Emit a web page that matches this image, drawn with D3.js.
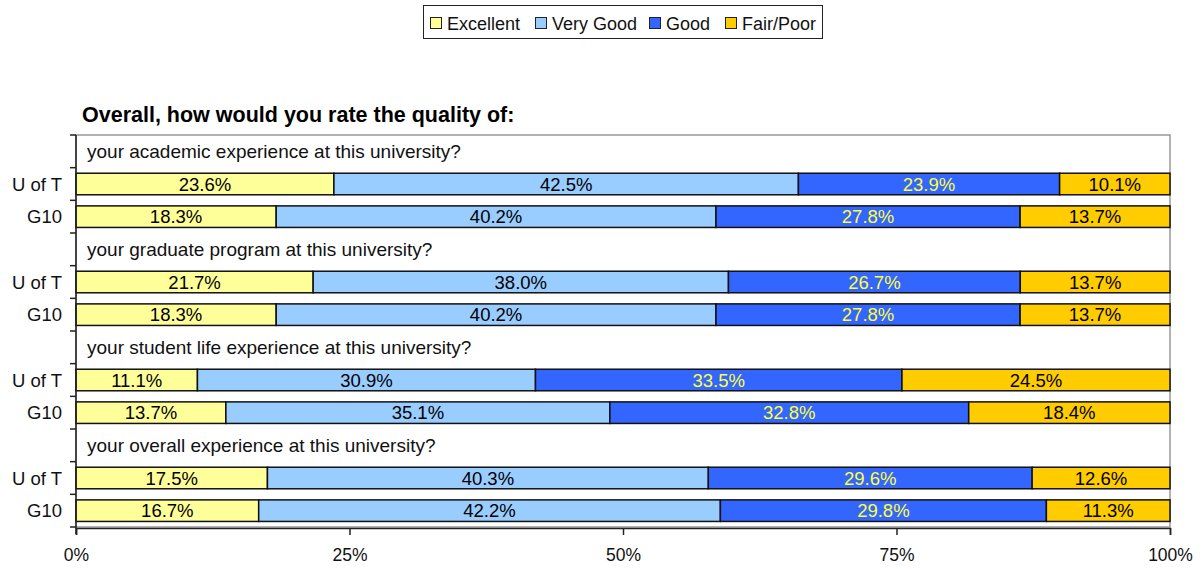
<!DOCTYPE html>
<html>
<head>
<meta charset="utf-8">
<script src="https://d3js.org/d3.v7.min.js"></script>
<style>
body { margin: 0; background: #fff; }
text { font-family: "Liberation Sans", Arial, sans-serif; }
</style>
</head>
<body>
<svg id="chart" width="1202" height="569"></svg>
<script>
// ratings, in stack order
const ratings = ["Excellent", "Very Good", "Good", "Fair/Poor"];
const colors = ["#FFFF99", "#99CCFF", "#3366FF", "#FFCC00"];
const labelColors = ["#000", "#000", "#FFFF33", "#000"];

const questions = [
  "your academic experience at this university?",
  "your graduate program at this university?",
  "your student life experience at this university?",
  "your overall experience at this university?"
];
const groups = ["U of T", "G10"];

// percentages per question: [U of T, G10], each Excellent / Very Good / Good / Fair/Poor
const academic = [[23.6, 42.5, 23.9, 10.1], [18.3, 40.2, 27.8, 13.7]];
const program = [[21.7, 38.0, 26.7, 13.7], [18.3, 40.2, 27.8, 13.7]];
const studentLife = [[11.1, 30.9, 33.5, 24.5], [13.7, 35.1, 32.8, 18.4]];
const overall = [[17.5, 40.3, 29.6, 12.6], [16.7, 42.2, 29.8, 11.3]];
const values = [academic, program, studentLife, overall];

const xTicks = [0, 0.25, 0.5, 0.75, 1];

// rows: a header row per question then one row per group
const rows = [];
questions.forEach((q, qi) => {
  rows.push({ id: "h" + qi, header: q });
  groups.forEach((g, gi) => {
    const r = { id: qi + "-" + gi, group: g };
    ratings.forEach((k, ki) => r[k] = values[qi][gi][ki]);
    rows.push(r);
  });
});
const barRows = rows.filter(r => !r.header);

const svg = d3.select("#chart");
const x0 = 76, x1 = 1170, y0 = 135, y1 = 527;

const x = d3.scaleLinear().domain([0, 1]).range([x0, x1]);
const y = d3.scaleBand().domain(rows.map(r => r.id)).range([y0, y1]).paddingInner(0.34).paddingOuter(0.17);

const stack = d3.stack().keys(ratings).offset(d3.stackOffsetExpand);
const series = stack(barRows);

// plot border
svg.append("rect")
  .attr("x", x0).attr("y", y0)
  .attr("width", x1 - x0).attr("height", y1 - y0)
  .attr("fill", "none").attr("stroke", "#999").attr("stroke-width", 1.5);

// bars
const layer = svg.append("g").selectAll("g").data(series).join("g")
  .attr("fill", (d, i) => colors[i]);

layer.selectAll("rect").data(d => d).join("rect")
  .attr("x", d => x(d[0]))
  .attr("y", d => y(d.data.id))
  .attr("width", d => x(d[1]) - x(d[0]))
  .attr("height", y.bandwidth())
  .attr("stroke", "#111")
  .attr("stroke-width", 1.5);

layer.selectAll("text").data(d => d.map(v => ({ v: v, key: d.key, i: d.index }))).join("text")
  .attr("x", d => (x(d.v[0]) + x(d.v[1])) / 2)
  .attr("y", d => y(d.v.data.id) + y.bandwidth() / 2 + 6.5)
  .attr("text-anchor", "middle")
  .attr("font-size", 18.5)
  .attr("fill", d => labelColors[d.i])
  .text(d => d.v.data[d.key].toFixed(1) + "%");

// question headers
svg.append("g").selectAll("text").data(rows.filter(r => r.header)).join("text")
  .attr("x", x0 + 11)
  .attr("y", r => y(r.id) + y.bandwidth() / 2 + 6.5)
  .attr("font-size", 19)
  .attr("fill", "#111")
  .text(r => r.header);

// left axis with ticks between categories
const yTicks = d3.range(rows.length + 1).map(i => y0 + i * (y1 - y0) / rows.length);
svg.append("line").attr("x1", x0).attr("x2", x0).attr("y1", y0).attr("y2", y1 + 7)
  .attr("stroke", "#222").attr("stroke-width", 1.5);
svg.append("g").selectAll("line").data(yTicks).join("line")
  .attr("x1", x0 - 6).attr("x2", x0).attr("y1", d => d).attr("y2", d => d)
  .attr("stroke", "#222").attr("stroke-width", 1.5);
svg.append("g").selectAll("text").data(barRows).join("text")
  .attr("x", 62)
  .attr("y", r => y(r.id) + y.bandwidth() / 2 + 6.5)
  .attr("text-anchor", "end")
  .attr("font-size", 18.5)
  .attr("fill", "#111")
  .text(r => r.group);

// bottom axis
const xAxis = d3.axisBottom(x).tickValues(xTicks).tickFormat(d3.format(".0%")).tickSize(7).tickPadding(14);
const gx = svg.append("g").attr("transform", `translate(0,${y1 + 1})`).call(xAxis);
gx.select(".domain").attr("stroke", "#222").attr("stroke-width", 1.5);
gx.selectAll(".tick line").attr("stroke", "#222").attr("stroke-width", 1.5);
gx.selectAll(".tick text").attr("font-size", 17.5).attr("fill", "#111")
  .attr("font-family", "Liberation Sans, Arial, sans-serif");

// title
svg.append("text").attr("x", 82).attr("y", 122)
  .attr("font-size", 21.5).attr("font-weight", "bold").attr("fill", "#000")
  .text("Overall, how would you rate the quality of:");

// legend
const lg = svg.append("g");
lg.append("rect").attr("x", 423.5).attr("y", 5.5).attr("width", 399).attr("height", 33)
  .attr("fill", "#fff").attr("stroke", "#222").attr("stroke-width", 1);
const legendX = [430, 535, 649, 725];
const item = lg.selectAll("g.item").data(ratings).join("g").attr("class", "item")
  .attr("transform", (d, i) => `translate(${legendX[i]},0)`);
item.append("rect").attr("x", 0.5).attr("y", 17.5).attr("width", 11).attr("height", 11)
  .attr("fill", (d, i) => colors[i]).attr("stroke", "#222").attr("stroke-width", 1);
item.append("text").attr("x", 17).attr("y", 29.5).attr("font-size", 18).attr("fill", "#111").text(d => d);
</script>
</body>
</html>
